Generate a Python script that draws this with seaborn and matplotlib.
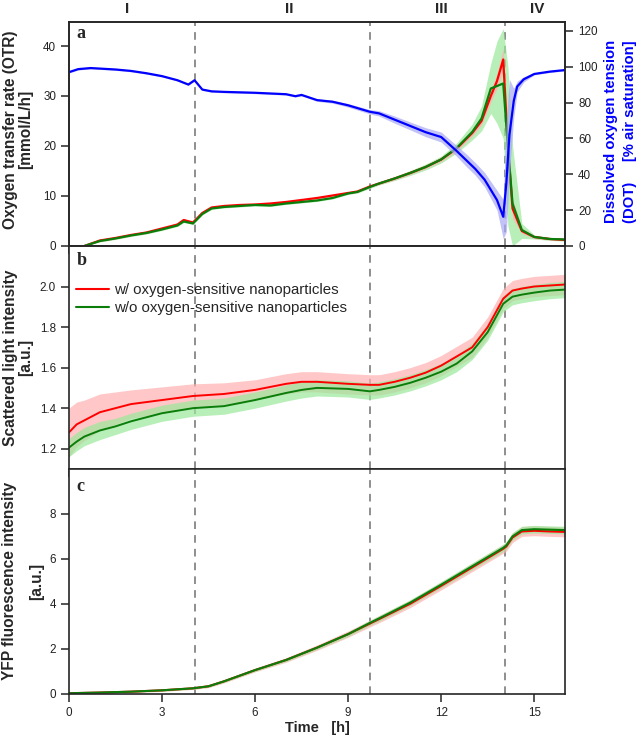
import numpy as np
import pandas as pd
import seaborn as sns
import matplotlib
matplotlib.use("Agg")
import matplotlib.pyplot as plt
from matplotlib.lines import Line2D

# ---- panel a: oxygen transfer rate (left axis) ----
otr_time = [0.5, 1, 1.5, 2, 2.5, 3, 3.5, 3.7, 4.0, 4.3, 4.6, 5, 5.5, 6, 6.5, 7, 7.5, 8, 8.5, 9,
            9.3, 9.7, 10, 10.5, 11, 11.5, 12, 12.5, 13, 13.3, 13.6, 13.8, 14.0, 14.15, 14.3, 14.6,
            15, 15.5, 16]
otr_red = [0, 1.1, 1.6, 2.2, 2.7, 3.5, 4.3, 5.2, 4.7, 6.6, 7.7, 8.0, 8.2, 8.3, 8.5, 8.8, 9.2, 9.6,
           10.1, 10.6, 10.9, 11.9, 12.5, 13.5, 14.6, 15.8, 17.3, 19.5, 22.6, 25.0, 30.0, 33.0,
           37.3, 20.0, 7.5, 3.0, 1.8, 1.4, 1.2]
otr_red_lo = [0, 0.9, 1.4, 2.0, 2.5, 3.3, 4.1, 5.0, 4.5, 6.4, 7.5, 7.8, 8.0, 8.1, 8.3, 8.6, 9.0, 9.4,
              9.9, 10.4, 10.7, 11.7, 12.3, 13.2, 14.3, 15.5, 16.9, 19.0, 22.0, 24.2, 28.8, 31.5,
              35.0, 17.0, 5.5, 2.5, 1.5, 1.2, 1.0]
otr_red_hi = [0.2, 1.3, 1.8, 2.4, 2.9, 3.7, 4.5, 5.4, 4.9, 6.8, 7.9, 8.2, 8.4, 8.5, 8.7, 9.0, 9.4, 9.8,
              10.3, 10.8, 11.1, 12.1, 12.7, 13.8, 14.9, 16.1, 17.7, 20.0, 23.2, 25.8, 31.2, 34.5,
              39.5, 23.0, 9.5, 3.5, 2.1, 1.6, 1.4]
otr_green = [0, 1.0, 1.5, 2.1, 2.6, 3.3, 4.1, 4.9, 4.5, 6.4, 7.5, 7.8, 8.0, 8.2, 8.1, 8.5, 8.8, 9.1,
             9.6, 10.5, 10.8, 11.8, 12.5, 13.5, 14.6, 15.8, 17.3, 19.6, 22.8, 25.5, 31.5, 32.0,
             32.5, 20.0, 8.5, 3.2, 1.8, 1.4, 1.3]
otr_green_lo = [0, 0.8, 1.3, 1.9, 2.4, 3.1, 3.9, 4.7, 4.3, 6.2, 7.3, 7.6, 7.8, 8.0, 7.9, 8.3, 8.6,
                8.9, 9.4, 10.3, 10.6, 11.5, 12.2, 13.1, 14.1, 15.2, 16.6, 18.6, 21.2, 23.0, 26.5,
                24.5, 21.5, 4.0, 0.0, 1.5, 1.4, 1.1, 1.0]
otr_green_hi = [0.2, 1.2, 1.7, 2.3, 2.8, 3.5, 4.3, 5.1, 4.7, 6.6, 7.7, 8.0, 8.2, 8.4, 8.3, 8.7, 9.0,
                9.3, 9.8, 10.7, 11.0, 12.1, 12.8, 13.9, 15.1, 16.4, 18.0, 20.6, 24.4, 28.0, 36.5,
                41.0, 43.5, 36.0, 20.0, 4.5, 2.2, 1.7, 1.6]

# ---- panel a: dissolved oxygen tension (right axis) ----
dot_time = [0, 0.3, 0.7, 1.5, 2, 2.5, 3, 3.5, 3.85, 4.05, 4.3, 4.6, 5, 6, 7, 7.3, 7.5, 8, 8.5, 9,
            9.7, 10, 10.5, 11, 11.5, 12, 12.5, 12.8, 13.1, 13.4, 13.8, 14.0, 14.1, 14.2, 14.34,
            14.45, 14.66, 15, 15.5, 16]
dot_mean = [97, 98.7, 99.3, 98.5, 97.7, 96.4, 94.8, 92.5, 90.1, 92.5, 87.3, 86.3, 86, 85.5, 84.7,
            83.6, 84.3, 81.4, 80.5, 78.5, 74.9, 74.0, 70.5, 67.0, 63.5, 60.8, 53.0, 48.0, 43.0,
            37.0, 25.6, 16.3, 35.0, 62.0, 81.0, 89.0, 93.0, 96.0, 97.3, 98.2]
dot_lo = [96.5, 98.2, 98.8, 98.0, 97.2, 95.9, 94.3, 92.0, 89.6, 92.0, 86.8, 85.8, 85.5, 85.0, 84.2,
          83.1, 83.8, 80.7, 79.7, 77.5, 73.7, 72.5, 68.5, 64.8, 61.0, 58.0, 50.0, 44.5, 39.5,
          33.0, 20.0, 4.0, 8.0, 40.0, 72.0, 86.0, 91.5, 95.5, 96.8, 97.7]
dot_hi = [97.5, 99.2, 99.8, 99.0, 98.2, 96.9, 95.3, 93.0, 90.6, 93.0, 87.8, 86.8, 86.5, 86.0, 85.2,
          84.1, 84.8, 82.1, 81.3, 79.5, 76.1, 75.5, 72.5, 69.2, 66.0, 63.6, 56.0, 51.5, 46.5,
          41.0, 31.0, 26.0, 70.0, 93.0, 88.0, 92.0, 94.5, 96.5, 97.8, 98.7]

# ---- panel b: scattered light ----
sl_time = [0, 0.25, 0.5, 1, 1.5, 2, 3, 4, 5, 6, 7, 7.5, 8, 9, 9.7, 10, 10.5, 11, 11.5, 12, 12.5,
           13, 13.5, 14, 14.3, 14.6, 15, 15.5, 16]
sl_red = [1.28, 1.32, 1.34, 1.38, 1.40, 1.42, 1.44, 1.46, 1.47, 1.49, 1.52, 1.53, 1.53, 1.52, 1.515,
          1.515, 1.53, 1.55, 1.575, 1.61, 1.655, 1.70, 1.80, 1.94, 1.98, 1.99, 2.0, 2.005, 2.01]
sl_red_spread = [0.12, 0.11, 0.10, 0.09, 0.08, 0.07, 0.065, 0.06, 0.055, 0.05, 0.05, 0.05, 0.05,
                 0.05, 0.05, 0.05, 0.05, 0.05, 0.05, 0.05, 0.05, 0.05, 0.05, 0.05, 0.05, 0.05,
                 0.05, 0.05, 0.05]
sl_green = [1.205, 1.235, 1.26, 1.29, 1.31, 1.335, 1.375, 1.40, 1.41, 1.44, 1.475, 1.49, 1.50, 1.495,
            1.483, 1.49, 1.505, 1.525, 1.55, 1.58, 1.62, 1.68, 1.775, 1.915, 1.95, 1.96, 1.97,
            1.98, 1.985]
sl_green_spread = [0.045, 0.045, 0.045, 0.045, 0.04, 0.04, 0.04, 0.04, 0.04, 0.04, 0.04, 0.04, 0.04,
                   0.04, 0.04, 0.04, 0.04, 0.04, 0.04, 0.04, 0.04, 0.04, 0.04, 0.04, 0.04, 0.04,
                   0.04, 0.04, 0.04]

# ---- panel c: YFP fluorescence ----
yfp_time = [0, 1, 2, 3, 4, 4.5, 5, 6, 7, 8, 9, 9.7, 10, 11, 12, 13, 14, 14.1, 14.3, 14.6, 15,
            15.5, 16]
yfp_green = [0.02, 0.05, 0.09, 0.15, 0.24, 0.33, 0.55, 1.05, 1.5, 2.05, 2.65, 3.15, 3.35, 4.05,
             4.85, 5.67, 6.49, 6.6, 7.0, 7.28, 7.32, 7.3, 7.28]
yfp_red = [0.02, 0.05, 0.09, 0.15, 0.24, 0.33, 0.55, 1.05, 1.5, 2.05, 2.65, 3.12, 3.32, 4.0,
           4.8, 5.62, 6.45, 6.55, 6.95, 7.22, 7.25, 7.22, 7.2]
yfp_red_spread = [0.02, 0.03, 0.04, 0.05, 0.05, 0.06, 0.07, 0.08, 0.1, 0.12, 0.14, 0.15, 0.16,
                  0.17, 0.18, 0.19, 0.2, 0.2, 0.22, 0.22, 0.22, 0.22, 0.22]
yfp_green_spread = [0.02, 0.02, 0.03, 0.04, 0.04, 0.05, 0.05, 0.06, 0.07, 0.08, 0.1, 0.11, 0.12,
                    0.13, 0.14, 0.15, 0.16, 0.16, 0.17, 0.17, 0.17, 0.17, 0.17]

phase_names = ["I", "II", "III", "IV"]
phase_centers = [1.87, 7.1, 12.0, 15.1]
phase_bounds = [4.05, 9.72, 14.07]

RED = "#ff0000"
GREEN = "#0a7d0a"
BLUE = "#0000ff"
RED_BAND = "#ffb0b0"
GREEN_BAND = "#9be89b"
BLUE_BAND = "#a8a8f5"

sns.set_style("ticks")
plt.rcParams["font.family"] = ["Liberation Sans", "DejaVu Sans"]
plt.rcParams["axes.linewidth"] = 1.2

fig = plt.figure(figsize=(6.38, 7.36), dpi=100)
ax_a = fig.add_axes([0.108, 0.6658, 0.778, 0.3043])
ax_b = fig.add_axes([0.108, 0.3628, 0.778, 0.3030], sharex=ax_a)
ax_c = fig.add_axes([0.108, 0.0575, 0.778, 0.3053], sharex=ax_a)
ax_dot = ax_a.twinx()


def band(ax, t, lo, hi, color, alpha=0.7):
    ax.fill_between(t, lo, hi, color=color, alpha=alpha, lw=0)


def plus_minus(mean, spread):
    m = np.array(mean)
    s = np.array(spread)
    return m - s, m + s


# panel a
band(ax_a, otr_time, otr_green_lo, otr_green_hi, GREEN_BAND)
band(ax_a, otr_time, otr_red_lo, otr_red_hi, RED_BAND)
sns.lineplot(x=otr_time, y=otr_red, ax=ax_a, color=RED, lw=1.6)
sns.lineplot(x=otr_time, y=otr_green, ax=ax_a, color=GREEN, lw=1.6)
band(ax_dot, dot_time, dot_lo, dot_hi, BLUE_BAND)
sns.lineplot(x=dot_time, y=dot_mean, ax=ax_dot, color=BLUE, lw=1.6)

# panel b
lo, hi = plus_minus(sl_red, sl_red_spread)
band(ax_b, sl_time, lo, hi, RED_BAND)
lo, hi = plus_minus(sl_green, sl_green_spread)
band(ax_b, sl_time, lo, hi, GREEN_BAND)
sns.lineplot(x=sl_time, y=sl_red, ax=ax_b, color=RED, lw=1.4)
sns.lineplot(x=sl_time, y=sl_green, ax=ax_b, color=GREEN, lw=1.4)

# panel c
lo, hi = plus_minus(yfp_red, yfp_red_spread)
band(ax_c, yfp_time, lo, hi, RED_BAND)
lo, hi = plus_minus(yfp_green, yfp_green_spread)
band(ax_c, yfp_time, lo, hi, GREEN_BAND)
sns.lineplot(x=yfp_time, y=yfp_red, ax=ax_c, color=RED, lw=1.5)
sns.lineplot(x=yfp_time, y=yfp_green, ax=ax_c, color=GREEN, lw=1.5)

tick_kw = dict(labelsize=8.4, labelcolor="#222222", direction="out", length=5.8, width=1.1,
               pad=3.5)
for ax in (ax_a, ax_b, ax_c):
    for xb in phase_bounds:
        ax.axvline(xb, color="#707070", lw=1.1, ls=(0, (5, 4)), zorder=0.5)
    ax.tick_params(axis="both", **tick_kw)
    ax.set_xlim(0, 16)
    ax.set_xticks([0, 3, 6, 9, 12, 15])
    for s in ax.spines.values():
        s.set_visible(True)
ax_a.tick_params(axis="x", labelbottom=False)
ax_b.tick_params(axis="x", labelbottom=False)
ax_dot.tick_params(axis="y", **tick_kw)
for s in ax_dot.spines.values():
    s.set_visible(True)

ax_a.set_ylim(0, 44.8)
ax_a.set_yticks([0, 10, 20, 30, 40])
ax_dot.set_ylim(0, 125)
ax_dot.set_yticks([0, 20, 40, 60, 80, 100, 120])
ax_b.set_ylim(1.1, 2.2)
ax_b.set_yticks([1.2, 1.4, 1.6, 1.8, 2.0])
ax_b.set_yticklabels(["1.2", "1.4", "1.6", "1.8", "2.0"])
ax_c.set_ylim(0, 10)
ax_c.set_yticks([0, 2, 4, 6, 8])

lab_kw = dict(fontweight="bold", ha="center", va="center")
ax_a.set_ylabel("Oxygen transfer rate (OTR)\n[mmol/L/h]", fontsize=11.2, linespacing=1.05,
                **lab_kw)
ax_b.set_ylabel("Scattered light intensity\n[a.u.]", fontsize=11.2, linespacing=1.05, **lab_kw)
ax_c.set_ylabel("YFP fluorescence intensity\n[a.u.]", fontsize=11.2, linespacing=2.0, **lab_kw)
ax_dot.set_ylabel("Dissolved oxygen tension\n(DOT)     [% air saturation]", color=BLUE,
                  fontsize=10.7, linespacing=1.5, **lab_kw)
ax_a.yaxis.set_label_coords(-0.102, 0.52)
ax_b.yaxis.set_label_coords(-0.102, 0.5)
ax_c.yaxis.set_label_coords(-0.092, 0.5)
ax_dot.yaxis.set_label_coords(1.111, 0.51)
ax_c.set_xlabel("Time   [h]", fontsize=10.5, fontweight="bold", labelpad=2)
ax_a.set_xlabel("")
ax_b.set_xlabel("")

for ax, letter, yb in ((ax_a, "a", 0.929), (ax_b, "b", 0.915), (ax_c, "c", 0.9)):
    ax.text(0.016, yb, letter, transform=ax.transAxes, ha="left", va="baseline",
            fontsize=13, fontweight="bold", family="Liberation Serif")

for name, xc in zip(phase_names, phase_centers):
    ax_a.text(xc, 1.058, name, transform=ax_a.get_xaxis_transform(), ha="center",
              va="center", fontsize=11, fontweight="bold")

handles = [Line2D([], [], color=RED, lw=1.5), Line2D([], [], color=GREEN, lw=1.5)]
ax_b.legend(handles, ["w/ oxygen-sensitive nanoparticles", "w/o oxygen-sensitive nanoparticles"],
            loc="upper left", bbox_to_anchor=(0.014, 0.835), frameon=False, fontsize=10.8,
            handlelength=2.2, handletextpad=0.33, labelspacing=0.27, borderaxespad=0,
            borderpad=0)

fig.savefig("out.png", dpi=100)
